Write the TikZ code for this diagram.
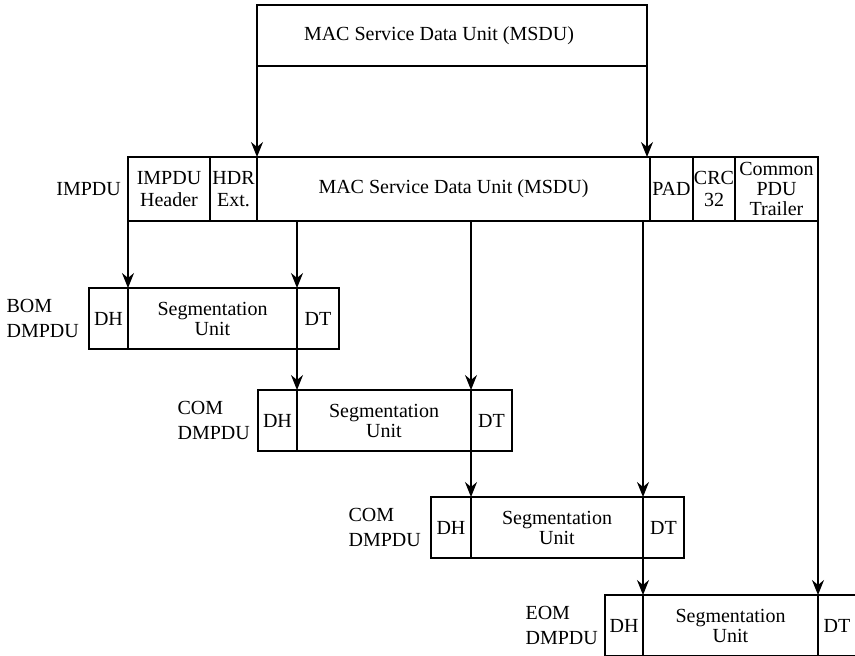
\documentclass[tikz,border=0pt]{standalone}
\usepackage{fontspec}
\setmainfont{Liberation Serif}
\usetikzlibrary{arrows.meta,positioning}

\begin{document}
\begin{tikzpicture}[x=1pt, y=-1pt,
  every node/.style={font=\fontsize{20}{22}\selectfont},
  cell/.style={draw, line width=1.2pt, inner sep=0pt, outer sep=0pt, align=center, minimum height=61pt},
  lbl/.style={align=left, inner sep=0pt, font=\fontsize{20}{25}\selectfont},
  arr/.style={line width=1.2pt, -{Stealth[length=15pt, width=12pt, inset=5pt]}}]
\useasboundingbox (0,0) rectangle (855,656);

% MSDU on top
\node[cell, anchor=north west, minimum width=390pt] (msdu) at (257,5) {MAC Service Data Unit (MSDU)\hspace*{26pt}};

% IMPDU
\node[cell, anchor=north west, minimum width=82pt, minimum height=64pt] (hdr) at (128,157) {IMPDU\\Header};
\node[cell, right=0pt of hdr, minimum width=47pt, minimum height=64pt] (ext) {HDR\\Ext.};
\node[cell, right=0pt of ext, minimum width=393pt, minimum height=64pt] (data) {MAC Service Data Unit (MSDU)};
\node[cell, right=0pt of data, minimum width=43pt, minimum height=64pt] (pad) {PAD};
\node[cell, right=0pt of pad, minimum width=42pt, minimum height=64pt] (crc) {CRC\\32};
\node[cell, right=0pt of crc, minimum width=83pt, minimum height=64pt, font=\fontsize{20}{20}\selectfont] (trl) {Common\\PDU\\Trailer};
\node[lbl, left=7pt of hdr] (impdulbl) {IMPDU};

% BOM
\node[cell, anchor=north west, minimum width=39pt] (bomdh) at (89,288) {DH};
\node[cell, right=0pt of bomdh, minimum width=169pt, font=\fontsize{20}{20}\selectfont] (bomseg) {Segmentation\\Unit};
\node[cell, right=0pt of bomseg, minimum width=42pt] (bomdt) {DT};
\node[lbl, left=10pt of bomdh] (bomlbl) {BOM\\DMPDU};

% COM 1
\node[cell, anchor=north west, minimum width=39pt] (comadh) at (258,390) {DH};
\node[cell, right=0pt of comadh, minimum width=174pt, font=\fontsize{20}{20}\selectfont] (comaseg) {Segmentation\\Unit};
\node[cell, right=0pt of comaseg, minimum width=41pt] (comadt) {DT};
\node[lbl, left=8pt of comadh] (comalbl) {COM\\DMPDU};

% COM 2
\node[cell, anchor=north west, minimum width=40pt] (combdh) at (431,497) {DH};
\node[cell, right=0pt of combdh, minimum width=172pt, font=\fontsize{20}{20}\selectfont] (combseg) {Segmentation\\Unit};
\node[cell, right=0pt of combseg, minimum width=41pt] (combdt) {DT};
\node[lbl, left=10pt of combdh] (comblbl) {COM\\DMPDU};

% EOM
\node[cell, anchor=north west, minimum width=38pt] (eomdh) at (605,595) {DH};
\node[cell, right=0pt of eomdh, minimum width=175pt, font=\fontsize{20}{20}\selectfont] (eomseg) {Segmentation\\Unit};
\node[cell, right=0pt of eomseg, minimum width=38pt] (eomdt) {DT};
\node[lbl, left=7pt of eomdh] (eomlbl) {EOM\\DMPDU};

% arrows
\draw[arr] (msdu.south west) -- (data.north west);
\draw[arr] (msdu.south east) -- (msdu.south east |- data.north);
\draw[arr] (hdr.south west) -- (bomseg.north west);
\draw[arr] (bomseg.north east |- data.south) -- (bomseg.north east);
\draw[arr] (bomseg.south east) -- (comaseg.north west);
\draw[arr] (comaseg.north east |- data.south) -- (comaseg.north east);
\draw[arr] (comaseg.south east) -- (combseg.north west);
\draw[arr] (combseg.north east |- data.south) -- (combseg.north east);
\draw[arr] (combseg.south east) -- (eomseg.north west);
\draw[arr] (trl.south east) -- (eomseg.north east);
\end{tikzpicture}
\end{document}
